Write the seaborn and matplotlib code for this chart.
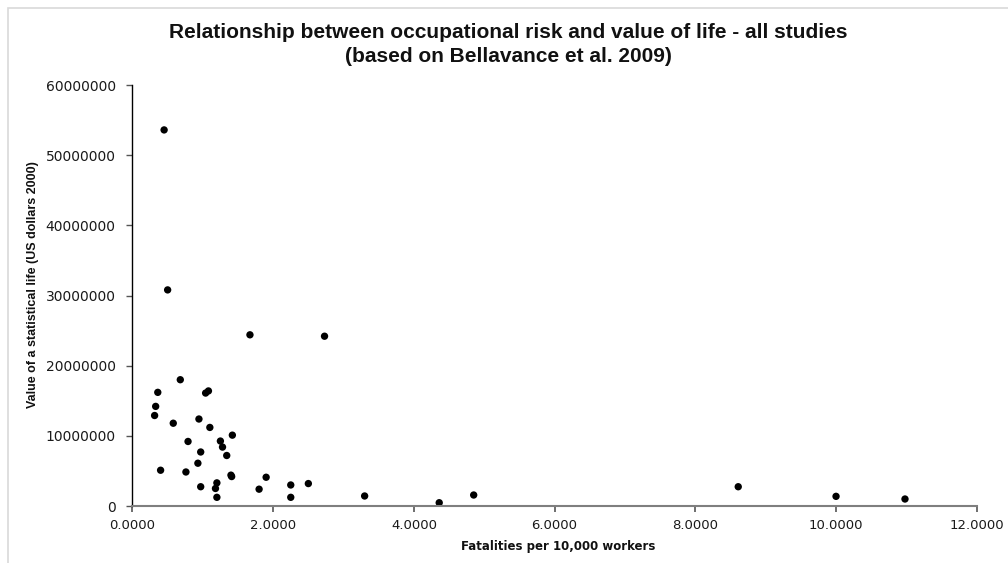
import matplotlib
matplotlib.use("Agg")
import matplotlib.pyplot as plt
import seaborn as sns
import pandas as pd
from matplotlib.ticker import FuncFormatter, MultipleLocator
from matplotlib.patches import Rectangle

# Fatality risk (per 10,000 workers) and value of a statistical life (US$ 2000)
fatality_risk = [0.45, 0.50, 1.67, 2.73, 0.68, 0.36, 1.04, 1.08, 0.33, 0.315,
                 0.58, 0.945, 1.10, 1.42, 0.79, 1.25, 1.28, 0.97, 1.34, 0.93,
                 0.40, 0.76, 1.40, 1.41, 1.90, 1.20, 0.97, 1.18, 1.80, 2.25,
                 2.50, 1.20, 2.25, 3.30, 4.36, 4.85, 8.61, 10.00, 10.98]
vsl_millions = [53.6, 30.8, 24.4, 24.2, 18.0, 16.2, 16.1, 16.4, 14.2, 12.9,
                11.8, 12.4, 11.2, 10.1, 9.2, 9.26, 8.4, 7.7, 7.2, 6.1,
                5.1, 4.85, 4.4, 4.2, 4.1, 3.3, 2.75, 2.5, 2.4, 3.0,
                3.2, 1.24, 1.24, 1.43, 0.47, 1.57, 2.75, 1.38, 1.0]

df = pd.DataFrame({"risk": fatality_risk,
                   "vsl": [v * 1e6 for v in vsl_millions]})

sns.set_style("white")
plt.rcParams["font.family"] = ["DejaVu Sans"]

fig = plt.figure(figsize=(10.08, 5.63), dpi=100)
ax = fig.add_axes([0.1314, 0.1012, 0.969 - 0.1314, 0.849 - 0.1012])

sns.scatterplot(data=df, x="risk", y="vsl", ax=ax, color="black",
                s=28, edgecolor="none", legend=False)

ax.set_xlim(0, 12)
ax.set_ylim(0, 60e6)
ax.xaxis.set_major_locator(MultipleLocator(2))
ax.yaxis.set_major_locator(MultipleLocator(10e6))
ax.xaxis.set_major_formatter(FuncFormatter(lambda v, p: f"{v:.4f}"))
ax.yaxis.set_major_formatter(FuncFormatter(lambda v, p: f"{v:.0f}"))

for side in ["top", "right"]:
    ax.spines[side].set_visible(False)
ax.spines["left"].set_color("black")
ax.spines["left"].set_linewidth(1.0)
ax.spines["bottom"].set_color("#7f7f7f")
ax.spines["bottom"].set_linewidth(1.5)

ax.tick_params(axis="y", which="major", direction="out", length=4, width=1,
               color="#555555", labelsize=10, pad=8, left=True)
ax.tick_params(axis="x", which="major", direction="out", length=4, width=1.2,
               color="#555555", labelsize=9.5, pad=5, bottom=True)
for lab in ax.get_xticklabels() + ax.get_yticklabels():
    lab.set_color("#1a1a1a")

ax.set_xlabel("")
ax.set_ylabel("")

narrow = ["Liberation Sans Narrow", "Liberation Sans", "DejaVu Sans"]

fig.text(0.5535, 0.029, "Fatalities per 10,000 workers", ha="center",
         va="center", fontsize=8.5, fontweight="bold", color="#111111")
fig.text(0.033, 1 - 285 / 563, "Value of a statistical life (US dollars 2000)",
         rotation=90, ha="center", va="center", fontsize=9,
         fontweight="bold", family=narrow, color="#111111")

fig.text(0.504, 1 - 32 / 563,
         "Relationship between occupational risk and value of life - all studies",
         ha="center", va="center", fontsize=15, fontweight="bold",
         family=narrow, color="#111111")
fig.text(0.504, 1 - 57 / 563, "(based on Bellavance et al. 2009)",
         ha="center", va="center", fontsize=15, fontweight="bold",
         family=narrow, color="#111111")

# light chart-area frame
fig.patches.append(Rectangle((8 / 1008, -0.05), 1.1, 1 - 8 / 563 + 0.05,
                             transform=fig.transFigure, fill=False,
                             edgecolor="#d9d9d9", linewidth=1.2))

fig.savefig("out.png", dpi=100)
